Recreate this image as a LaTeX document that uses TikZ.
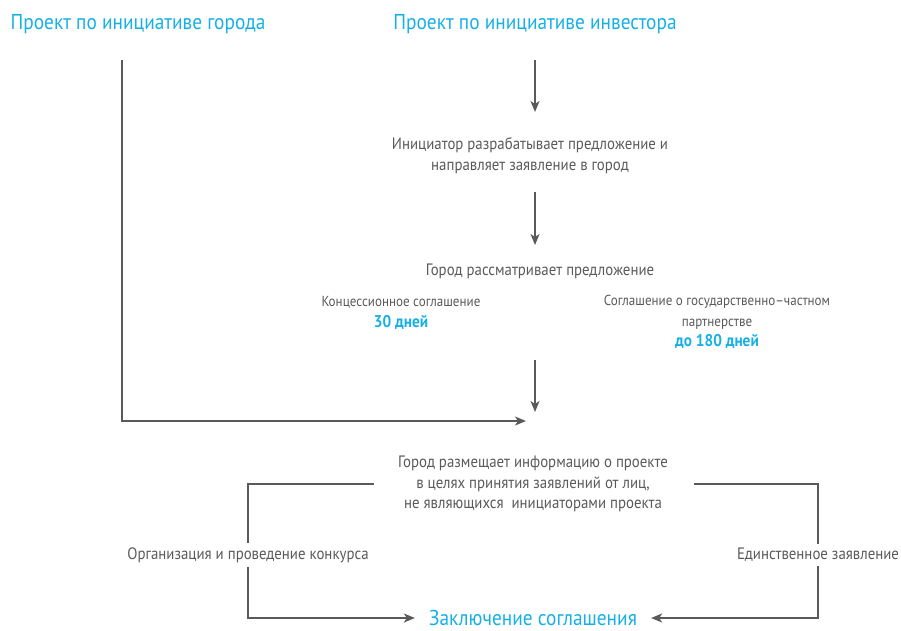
\documentclass[tikz,border=0pt]{standalone}
\usepackage{fontspec}
\setmainfont{PT Sans}[FakeStretch=0.9]
\usepackage{xcolor}
\usetikzlibrary{arrows.meta, positioning, calc}
\definecolor{kcyan}{HTML}{16B0E6}
\definecolor{kgray}{HTML}{5A5A5A}
\newcommand{\kterm}[1]{\textcolor{kcyan}{\bfseries\fontsize{17}{20}\selectfont #1}}
\tikzset{
	title/.style={text=kcyan, font=\fontsize{21.5}{24}\selectfont, inner sep=0pt},
	body/.style={text=kgray, font=\fontsize{16.5}{20.8}\selectfont, align=center, inner sep=0pt},
	small/.style={text=kgray, font=\fontsize{14.5}{20.5}\selectfont, align=center, inner sep=0pt},
	conn/.style={draw=kgray, line width=1.8pt},
	arr/.style={conn, -{Stealth[length=11pt, width=9pt, inset=3pt]}}
}
\begin{document}
\begin{tikzpicture}[x=1pt, y=-1pt]
			
			\useasboundingbox (0,0) rectangle (901,630);
			
			% Titles
			\node[title] (gorod) at (138,24) {Проект по инициативе города};
			\node[title] (invest) at (535,24) {Проект по инициативе инвестора};
			
			% Investor branch
			\node[body] (init) at (530,156) {Инициатор разрабатывает предложение и\\направляет заявление в город};
			\node[body] (rassm) at (540,271) {Город рассматривает предложение};
			\node[small] (konc) at (401,313) {Концессионное соглашение\\\kterm{30 дней}};
			\node[small] (gchp) at (717,322) {Соглашение о государственно--частном\\партнерстве\\\kterm{до 180 дней}};
			
			% Common part
			\node[body] (razm) at (533,484) {Город размещает информацию о проекте\\в целях принятия заявлений от лиц,\\не являющихся\ \ инициаторами проекта};
			\node[body, inner sep=4pt] (konkurs) at (248,555) {Организация и проведение конкурса};
			\node[body, inner sep=4pt] (edin) at (818,555) {Единственное заявление};
			\node[title, inner xsep=14pt] (zakl) at (533,618) {Заключение соглашения};
			
			% Free ends
			\coordinate (c1) at (122,60);
			\coordinate (c2) at (122,421);
			\coordinate (c3) at (526,421);
			
			% Arrows
			\draw[arr] (535,60) -- (535,112);
			\draw[arr] (535,192) -- (535,245);
			\draw[arr] (535,360) -- (535,412);
			\draw[arr] (c1) -- (c2) -- (c3);
			
			% Brackets
			\draw[conn] ([xshift=-24pt]razm.west) -| (konkurs.north);
			\draw[arr] (konkurs.south) |- (zakl.west);
			\draw[conn] ([xshift=26pt]razm.east) -| (edin.north);
			\draw[arr] (edin.south) |- (zakl.east);
			
		\end{tikzpicture}
\end{document}
